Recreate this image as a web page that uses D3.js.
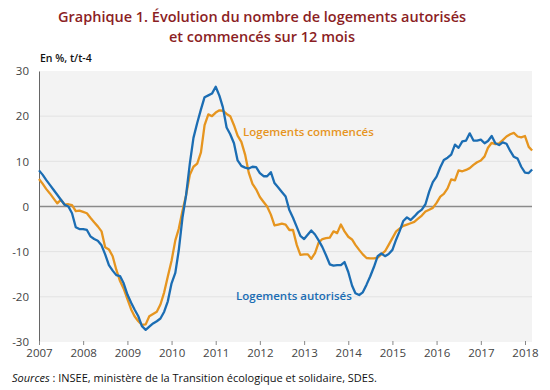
<!DOCTYPE html>
<html>
<head>
<meta charset="utf-8">
<script src="https://cdn.jsdelivr.net/npm/d3@7"></script>
<style>
  body { margin: 0; background: #fff; }
  text { font-family: "Open Sans", sans-serif; }
</style>
</head>
<body>
<svg id="chart" width="550" height="390"></svg>
<script>
// 12-month growth (%, t/t-4), monthly from Jan 2007
let autorises = [8.0, 7.0, 5.9, 4.8, 3.7, 2.6, 1.5, 0.4, 0.0, -1.5,
  -4.6, -5.0, -5.0, -5.2, -6.6, -7.2, -7.6, -8.6, -10.6, -13.0,
  -14.2, -15.2, -15.4, -17.0, -19.5, -21.3, -22.8, -24.3, -26.5, -27.3,
  -26.6, -25.9, -25.4, -24.8, -23.3, -21.0, -17.0, -14.7, -9.8, -2.5,
  2.5, 9.5, 15.2, 18.5, 21.5, 24.2, 24.6, 25.0, 26.5, 24.5,
  22.0, 17.5, 16.0, 14.0, 10.2, 9.0, 8.6, 8.4, 8.8, 8.7,
  7.4, 6.7, 6.7, 7.6, 5.2, 4.2, 3.2, 2.2, -0.8, -2.5,
  -4.5, -6.5, -7.2, -6.2, -5.3, -6.2, -7.5, -9.0, -10.8, -12.8,
  -13.1, -13.0, -13.0, -12.3, -14.5, -17.5, -19.2, -19.6, -19.0, -17.3,
  -15.5, -13.4, -11.0, -10.4, -11.0, -10.5, -9.6, -7.3, -5.5, -3.2,
  -2.4, -3.0, -2.2, -1.3, -0.7, 0.5, 3.3, 5.4, 6.6, 8.7,
  10.3, 10.8, 11.5, 13.7, 13.0, 14.4, 14.6, 16.2, 14.6, 14.6,
  14.8, 14.0, 14.5, 15.6, 14.0, 13.6, 14.2, 13.9, 12.3, 11.0,
  10.6, 8.8, 7.5, 7.4, 8.2]
let commences = [6.1, 5.0, 3.9, 2.9, 1.8, 0.7, 1.5, 0.4, 0.5, 0.3,
  -1.0, -0.9, -1.2, -1.5, -2.5, -3.5, -4.4, -5.5, -9.0, -9.5,
  -11.0, -14.0, -16.5, -18.2, -20.5, -22.8, -24.3, -25.4, -26.2, -26.1,
  -24.3, -23.8, -23.3, -21.7, -19.0, -15.5, -12.0, -7.5, -5.0, -1.0,
  2.5, 7.0, 8.8, 9.5, 12.0, 18.0, 20.4, 20.0, 20.8, 21.3,
  21.2, 20.5, 20.0, 18.0, 15.7, 14.3, 11.5, 7.5, 5.0, 3.8,
  2.1, 1.0, 0.0, -1.8, -4.2, -4.0, -3.8, -4.0, -5.2, -5.2,
  -8.5, -10.7, -10.6, -10.6, -11.6, -10.3, -8.0, -7.2, -7.0, -6.9,
  -5.5, -5.9, -4.0, -5.5, -6.7, -7.3, -8.5, -9.6, -10.6, -11.4,
  -11.5, -11.5, -11.3, -10.6, -9.9, -8.5, -7.0, -5.5, -4.9, -4.3,
  -4.0, -3.7, -3.4, -2.7, -2.0, -1.1, -0.7, -0.3, 0.8, 2.2,
  2.8, 4.0, 6.0, 5.8, 8.0, 7.8, 8.1, 8.5, 9.2, 9.8,
  10.2, 11.1, 13.0, 14.1, 13.8, 14.0, 14.7, 15.5, 16.0, 16.3,
  15.5, 15.3, 15.6, 13.2, 12.4]
let yearTicks = d3.range(2007, 2019)
let yTicks = [-30, -20, -10, 0, 10, 20, 30]

let blue = "#1b6db3", orange = "#e6951f", titleCol = "#8b1e24"

let svg = d3.select("#chart")
let mLeft = 39, mRight = 532, mTop = 71, mBottom = 342

let months = d3.timeMonth.range(new Date(2007, 0, 1), new Date(2019, 0, 1)).slice(0, autorises.length)
let x = d3.scaleTime().domain([new Date(2007, 0, 1), new Date(2018, 1, 28)]).range([mLeft, mRight])
let y = d3.scaleLinear().domain([-30, 30]).range([mBottom, mTop])

// title
svg.append("text").attr("x", 262).attr("y", 22).attr("text-anchor", "middle")
  .attr("fill", titleCol).attr("font-size", 14.5).attr("font-weight", 600)
  .text("Graphique 1. Évolution du nombre de logements autorisés")
svg.append("text").attr("x", 262).attr("y", 42).attr("text-anchor", "middle")
  .attr("fill", titleCol).attr("font-size", 14.5).attr("font-weight", 600)
  .text("et commencés sur 12 mois")

svg.append("text").attr("x", 40).attr("y", 62).attr("font-size", 10.5).attr("font-weight", 600)
  .attr("fill", "#111").text("En %, t/t-4")

// plot background
svg.append("rect").attr("x", mLeft).attr("y", mTop).attr("width", mRight - mLeft).attr("height", mBottom - mTop)
  .attr("fill", "#f3f3f3")

// grid
svg.append("g").selectAll("line")
  .data(yTicks.filter(d => d != 0 && Math.abs(d) != 30)).enter()
  .append("line")
  .attr("x1", mLeft).attr("x2", mRight)
  .attr("y1", d => y(d)).attr("y2", d => y(d))
  .attr("stroke", "#e2e2e2").attr("stroke-width", 1)

svg.append("line").attr("x1", mLeft).attr("x2", mRight).attr("y1", y(0)).attr("y2", y(0))
  .attr("stroke", "#8a8a8a").attr("stroke-width", 1.5)

// y axis
let yAxis = d3.axisLeft(y).tickValues(yTicks).tickSize(0).tickPadding(10).tickFormat(d => String(d))
let gy = svg.append("g").attr("transform", `translate(${mLeft},0)`).call(yAxis)
gy.select(".domain").attr("stroke", "#666").attr("stroke-width", 1)
gy.selectAll("text").attr("font-size", 11.5).attr("fill", "#444").attr("font-family", "Open Sans")

// x axis
let xAxis = d3.axisBottom(x).tickValues(yearTicks.map(d => new Date(d, 0, 1)))
  .tickFormat(d3.timeFormat("%Y")).tickSize(4).tickPadding(4)
let gx = svg.append("g").attr("transform", `translate(0,${mBottom - 1})`).call(xAxis)
gx.select(".domain").remove()
gx.selectAll("line").attr("stroke", "#888")
gx.selectAll("text").attr("font-size", 11.5).attr("fill", "#444").attr("font-family", "Open Sans")

// lines
let line = d3.line().x((d, i) => x(months[i])).y(d => y(d))
svg.append("path").datum(commences).attr("d", line).attr("fill", "none")
  .attr("stroke", orange).attr("stroke-width", 2.3).attr("stroke-linejoin", "round")
svg.append("path").datum(autorises).attr("d", line).attr("fill", "none")
  .attr("stroke", blue).attr("stroke-width", 2.3).attr("stroke-linejoin", "round")

// labels
svg.append("text").attr("x", 243).attr("y", 136).attr("font-size", 11.5).attr("font-weight", 600)
  .attr("fill", orange).text("Logements commencés")
svg.append("text").attr("x", 236).attr("y", 300).attr("font-size", 11.5).attr("font-weight", 600)
  .attr("fill", blue).text("Logements autorisés")

// source
let src = svg.append("text").attr("x", 12).attr("y", 382).attr("font-size", 11).attr("fill", "#111")
src.append("tspan").attr("font-style", "italic").text("Sources")
src.append("tspan").text(" : INSEE, ministère de la Transition écologique et solidaire, SDES.")
</script>
</body>
</html>
